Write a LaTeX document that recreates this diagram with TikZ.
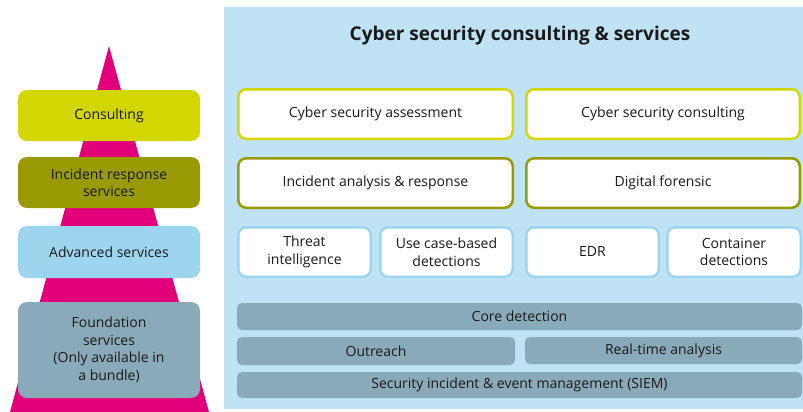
\documentclass[tikz,border=0pt]{standalone}
\usepackage{fontspec}
\setmainfont{Open Sans}
\definecolor{magentaP}{HTML}{E2007A}
\definecolor{panelB}{HTML}{BFE3F4}
\definecolor{yelG}{HTML}{D3D600}
\definecolor{oliveG}{HTML}{999A00}
\definecolor{lightB}{HTML}{9DD5EE}
\definecolor{grayB}{HTML}{89AAB8}
\definecolor{txt}{HTML}{1A1A1A}
\begin{document}
\begin{tikzpicture}[x=1pt,y=-1pt,
  every node/.style={text=txt,font=\fontsize{14}{17.5}\selectfont,align=center,inner sep=0pt},
  leftbox/.style={rounded corners=9pt,minimum width=182pt},
  outbox/.style={fill=white,draw=#1,line width=2.5pt,rounded corners=8pt,minimum height=49.5pt},
  barbox/.style={fill=grayB,rounded corners=5pt}
]
\useasboundingbox (0,0) rectangle (803,412);
\fill[white] (0,0) rectangle (803,412);
% panel
\fill[panelB] (224,7) rectangle (803,409);
% pyramid
\fill[magentaP] (109,46) -- (209,412) -- (10,412) -- cycle;
% left boxes
\node[leftbox,fill=yelG,minimum height=51pt] (cons) at (109,115.5) {Consulting};
\node[leftbox,fill=oliveG,minimum height=51pt] (irs) at (109,182.5) {Incident response\\services};
\node[leftbox,fill=lightB,minimum height=52pt] (adv) at (109,252) {Advanced services};
\node[leftbox,fill=grayB,minimum height=96pt] (fnd) at (109,350) {Foundation\\services\\(Only available in\\a bundle)};
% title
\node[font=\bfseries\fontsize{19}{22}\selectfont] (title) at (520,35.5) {Cyber security consulting \& services};
% row 1
\node[outbox=yelG,minimum width=274.5pt] (csa) at (375.5,114) {Cyber security assessment};
\node[outbox=yelG,minimum width=273.5pt] (csc) at (663,114) {Cyber security consulting};
% row 2
\node[outbox=oliveG,minimum width=274.5pt] (iar) at (375.5,183) {Incident analysis \& response};
\node[outbox=oliveG,minimum width=273.5pt] (dfo) at (663,183) {Digital forensic};
% row 3
\node[outbox=lightB,minimum width=132.5pt] (thr) at (304.5,252) {Threat\\intelligence};
\node[outbox=lightB,minimum width=132.5pt] (ucb) at (446.5,252) {Use case-based\\detections};
\node[outbox=lightB,minimum width=132.5pt] (edr) at (592.5,252) {EDR};
\node[outbox=lightB,minimum width=133.5pt] (cnt) at (734,252) {Container\\detections};
% bars
\node[barbox,minimum width=565pt,minimum height=27pt] (core) at (519.5,316.5) {Core detection};
\node[barbox,minimum width=278pt,minimum height=28pt] (out) at (376,351) {Outreach};
\node[barbox,minimum width=277pt,minimum height=27pt] (rta) at (663.5,350.5) {Real-time analysis};
\node[barbox,minimum width=565pt,minimum height=26pt] (siem) at (519.5,385) {Security incident \& event management (SIEM)};
\end{tikzpicture}
\end{document}
